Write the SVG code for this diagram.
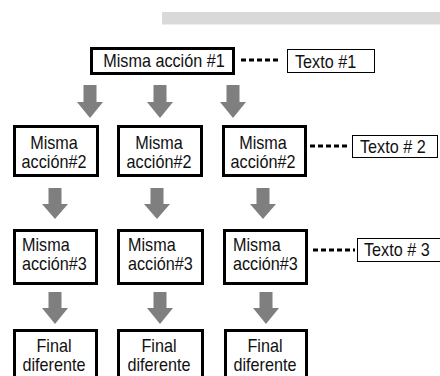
<svg xmlns="http://www.w3.org/2000/svg" width="440" height="376" viewBox="0 0 440 376">
<defs>
<style>
.box{fill:#fff;stroke:#000;stroke-width:3}
.note{fill:#fff;stroke:#000;stroke-width:1}
.t{font-family:"Liberation Sans",Arial,sans-serif;font-size:16.2px;fill:#111}
.c{text-anchor:middle}
.arr{fill:#7f7f7f}
.dot{stroke:#000;stroke-width:3;stroke-dasharray:5 3;fill:none}
</style>
</defs>
<rect x="162" y="12" width="278" height="12.5" fill="#d9d9d9"/>
<g id="connectors">
<polygon class="arr" points="83.5,85 96.5,85 96.5,102 103,102 90,118 77,102 83.5,102"/>
<polygon class="arr" points="153.5,85 166.5,85 166.5,102 173,102 160,118 147,102 153.5,102"/>
<polygon class="arr" points="226.5,85 239.5,85 239.5,102 246,102 233,118 220,102 226.5,102"/>
<polygon class="arr" points="48.5,188 61.5,188 61.5,204 68,204 55,219 42,204 48.5,204"/>
<polygon class="arr" points="150.5,188 163.5,188 163.5,204 170,204 157,219 144,204 150.5,204"/>
<polygon class="arr" points="256.5,188 269.5,188 269.5,204 276,204 263,219 250,204 256.5,204"/>
<polygon class="arr" points="48.5,292 61.5,292 61.5,308 68,308 55,324 42,308 48.5,308"/>
<polygon class="arr" points="153.5,292 166.5,292 166.5,308 173,308 160,324 147,308 153.5,308"/>
<polygon class="arr" points="259.5,292 272.5,292 272.5,308 279,308 266,324 253,308 259.5,308"/>
<line class="dot" x1="241" y1="60" x2="281" y2="60"/>
<line class="dot" x1="310" y1="146" x2="350" y2="146"/>
<line class="dot" x1="313" y1="250" x2="355" y2="250"/>
</g>
<g id="n1">
<rect class="box" x="91.5" y="48.5" width="142" height="25"/>
<text class="t c" transform="translate(164,67) scale(1,1.12)">Misma acción #1</text>
</g>
<g id="texto1">
<rect class="note" x="287.5" y="49.5" width="87" height="23"/>
<text class="t" transform="translate(295,68) scale(1,1.12)">Texto #1</text>
</g>
<g id="n2a">
<rect class="box" x="14.5" y="126.5" width="83" height="49"/>
<text class="t c" transform="translate(54,149) scale(1,1.12)">Misma</text>
<text class="t c" transform="translate(54,168) scale(1,1.12)">acción#2</text>
</g>
<g id="n2b">
<rect class="box" x="118.5" y="126.5" width="83" height="49"/>
<text class="t c" transform="translate(159,149) scale(1,1.12)">Misma</text>
<text class="t c" transform="translate(159,168) scale(1,1.12)">acción#2</text>
</g>
<g id="n2c">
<rect class="box" x="223.5" y="126.5" width="82" height="49"/>
<text class="t c" transform="translate(263,149) scale(1,1.12)">Misma</text>
<text class="t c" transform="translate(263,168) scale(1,1.12)">acción#2</text>
</g>
<g id="texto2">
<rect class="note" x="352.5" y="135.5" width="85" height="22"/>
<text class="t" transform="translate(360,153) scale(1,1.12)">Texto # 2</text>
</g>
<g id="n3a">
<rect class="box" x="14.5" y="230.5" width="82" height="53"/>
<text class="t" transform="translate(22,250.5) scale(1,1.12)">Misma</text>
<text class="t" transform="translate(22,269.5) scale(1,1.12)">acción#3</text>
</g>
<g id="n3b">
<rect class="box" x="118.5" y="230.5" width="84" height="53"/>
<text class="t" transform="translate(128,250.5) scale(1,1.12)">Misma</text>
<text class="t" transform="translate(128,269.5) scale(1,1.12)">acción#3</text>
</g>
<g id="n3c">
<rect class="box" x="224.5" y="230.5" width="82" height="53"/>
<text class="t" transform="translate(233,250.5) scale(1,1.12)">Misma</text>
<text class="t" transform="translate(233,269.5) scale(1,1.12)">acción#3</text>
</g>
<g id="texto3">
<rect class="note" x="357.5" y="238.5" width="90" height="23"/>
<text class="t" transform="translate(364,256) scale(1,1.12)">Texto # 3</text>
</g>
<g id="n4a">
<rect class="box" x="14.5" y="330.5" width="82" height="60"/>
<text class="t c" transform="translate(54,351.5) scale(1,1.12)">Final</text>
<text class="t c" transform="translate(54,370.5) scale(1,1.12)">diferente</text>
</g>
<g id="n4b">
<rect class="box" x="118.5" y="330.5" width="84" height="60"/>
<text class="t c" transform="translate(159,351.5) scale(1,1.12)">Final</text>
<text class="t c" transform="translate(159,370.5) scale(1,1.12)">diferente</text>
</g>
<g id="n4c">
<rect class="box" x="225.5" y="330.5" width="81" height="60"/>
<text class="t c" transform="translate(265,351.5) scale(1,1.12)">Final</text>
<text class="t c" transform="translate(265,370.5) scale(1,1.12)">diferente</text>
</g>
</svg>
